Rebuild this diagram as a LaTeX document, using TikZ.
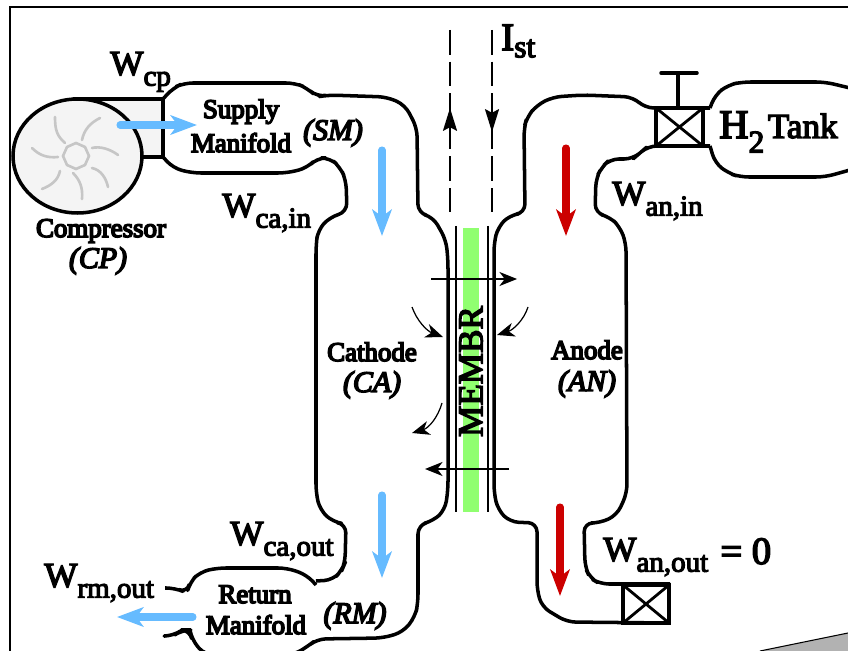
\documentclass[tikz,border=0pt]{standalone}
\usepackage{fontspec}
\setmainfont{Liberation Serif}
\newfontfamily\fatfont[FakeBold=4]{Liberation Serif}
\newfontfamily\midfont[FakeBold=6]{Liberation Serif}
\newfontfamily\fatitfont[FakeBold=5]{Liberation Serif Italic}
\usetikzlibrary{arrows.meta, positioning, calc}
\definecolor{cFlow}{HTML}{66BBFF}
\definecolor{cHyd}{HTML}{CC0000}
\definecolor{cMemb}{HTML}{90FF70}
\newcommand{\flowlabel}[3][0.8ex]{\fontsize{20}{20}\selectfont #2\fontsize{16.5}{16.5}\selectfont\raisebox{-#1}{#3}}
\tikzset{
  tube/.style={line width=2pt, rounded corners=5pt, line join=round},
  valvebox/.style={line width=2pt, line join=miter},
  blade/.style={line width=1.5pt, gray!45, line cap=round},
  flowblue/.style={-{Stealth[length=15pt,width=11pt,inset=4pt]}, line width=4pt, cFlow, line cap=round},
  flowred/.style={-{Stealth[length=15pt,width=11pt,inset=4pt]}, line width=4pt, cHyd, line cap=round},
  thinarrow/.style={-{Stealth[length=10pt,width=8pt,inset=3pt]}, line width=0.7pt},
  currentline/.style={line width=0.8pt, dash pattern=on 14pt off 4pt},
  lbl/.style={font=\midfont\fontsize{15.3}{15.3}\selectfont, inner sep=0pt, anchor=base},
  lblit/.style={font=\fatitfont\fontsize{17}{17}\selectfont, inner sep=0pt, anchor=base},
  flowlbl/.style={font=\fatfont, inner sep=0pt, anchor=base west},
}
\begin{document}
\begin{tikzpicture}[x=0.02cm, y=-0.02cm]
  \useasboundingbox (0,0) rectangle (848,651);
  % Frame
  \draw[line width=1.1pt] (10,651) -- (10,7) -- (848,7);
  \fill[gray!60] (760,651) -- (848,633) -- (848,651) -- cycle;
  \draw[line width=0.6pt] (760,651) -- (848,633);

  % Membrane
  \fill[cMemb] (463,228) rectangle (479,512);
  \draw[line width=0.8pt] (456,226) -- (456,512);
  \draw[line width=0.8pt] (488,226) -- (488,512);
  \node[font=\fatfont\fontsize{20}{20}\selectfont, rotate=90, inner sep=0pt] (membr) at (471,371.5) {MEMBR};

  % Compressor
  \filldraw[line width=2pt, fill=gray!9] (77,99) -- (163,99) -- (163,157) -- (140,157) -- cycle;
  \filldraw[line width=2pt, fill=gray!9] (77.5,156) ellipse (64.5 and 57);
  \draw[blade] (76,143) -- (85,147) -- (89,156) -- (85,165) -- (76,169) -- (67,165) -- (63,156) -- (67,147) -- cycle;
  \draw[blade] (55,117) .. controls (55,130) and (57,136) .. (65,143);
  \draw[blade] (100,118) .. controls (90,123) and (84,130) .. (82,140);
  \draw[blade] (92,148) .. controls (100,146) and (110,149) .. (118,155);
  \draw[blade] (92,168) .. controls (101,170) and (106,178) .. (108,187);
  \draw[blade] (73,173) .. controls (80,180) and (83,188) .. (82,199);
  \draw[blade] (60,171) .. controls (58,180) and (52,185) .. (42,189);
  \draw[blade] (32,148) .. controls (40,156) and (48,158) .. (58,157);

  % Cathode side
  \draw[tube] (163,99) -- (173,88) -- (184,83) -- (295,83) -- (307,88) -- (317,97) -- (328,95)
    -- (387,97) -- (405,105) -- (417,128) -- (418,213) -- (433,217) -- (446,240) -- (448,260)
    -- (448,490) -- (445,510) -- (433,521) -- (418,525) -- (418,603) -- (415,617) -- (403,632)
    -- (383,638) -- (317,639) -- (307,647) -- (293,655) -- (205,655) -- (192,640) -- (190,630)
    -- (182,630) -- (173,636) -- (165,636);
  \draw[tube] (163,157) -- (173,168) -- (192,173) -- (287,173) -- (307,168) -- (317,158)
    -- (330,158) -- (340,167) -- (346,180) -- (347,212) -- (330,217) -- (318,230) -- (316,245)
    -- (316,493) -- (320,510) -- (333,522) -- (346,524) -- (345,563) -- (342,570)
    -- (333,580) -- (316,581);
  \draw[tube] (316,585) -- (307,575) -- (287,568) -- (217,568) -- (200,572)
    -- (190,582) -- (187,593) -- (175,588) -- (165,588);

  % Anode side
  \draw[tube] (710,108) -- (645,108) -- (633,97) -- (583,95) -- (553,97)
    -- (537,105) -- (527,117) -- (524,128) -- (525,213) -- (510,215) -- (498,227) -- (494,243)
    -- (494,493) -- (498,510) -- (510,522) -- (537,523) -- (537,590) -- (542,607) -- (567,622)
    -- (669,623);
  \draw[tube] (710,146) -- (648,146) -- (640,153) -- (633,159) -- (610,159) -- (602,167)
    -- (596,178) -- (595,213) -- (610,217) -- (620,227) -- (626,243) -- (627,493) -- (617,515)
    -- (600,523) -- (584,523) -- (585,567) -- (590,578) -- (600,584) -- (670,584);

  % Tank
  \draw[tube] (710,108) -- (715,95) -- (728,85) -- (742,82) -- (825,82) -- (850,88);
  \draw[tube] (710,146) -- (715,163) -- (728,173) -- (740,177) -- (825,177) -- (850,170);

  % Valves
  \draw[valvebox] (656,108) rectangle (703,146);
  \draw[line width=1.6pt] (656,108) -- (703,146) (656,146) -- (703,108);
  \draw[valvebox] (678,108) -- (678,73);
  \draw[valvebox, line cap=round] (661,73) -- (697,73);
  \draw[valvebox] (623,585) rectangle (669,623);
  \draw[line width=1.6pt] (623,585) -- (669,623) (623,623) -- (669,585);

  % Current
  \draw[currentline] (450,30) -- (450,212);
  \draw[currentline] (492,30) -- (492,212);
  \draw[-{Stealth[length=13pt,width=8pt,inset=2pt]}, line width=0.8pt] (450,130) -- (450,108);
  \draw[-{Stealth[length=13pt,width=8pt,inset=2pt]}, line width=0.8pt] (492,108) -- (492,132);

  % Flow arrows
  \draw[flowblue] (120,125) -- (197,125);
  \draw[flowblue] (382,150) -- (382,236);
  \draw[flowblue] (382,495) -- (382,578);
  \draw[flowblue] (193,617) -- (117,617);
  \draw[flowred] (566,148) -- (566,236);
  \draw[flowred] (560,507) -- (560,596);

  % Reactions
  \draw[thinarrow] (431,279) -- (517,279);
  \draw[thinarrow] (509,469) -- (425,469);
  \draw[thinarrow] (412,307) .. controls (417,321) and (427,331) .. (443,337);
  \draw[thinarrow] (528,307) .. controls (524,320) and (513,330) .. (497,335);
  \draw[thinarrow] (442,403) .. controls (438,417) and (429,428) .. (412,433);

  % Labels
  \node[flowlbl] (wcp) at (110,75) {\flowlabel{W}{cp}};
  \node[flowlbl] (wcain) at (222,217) {\flowlabel{W}{ca,in}};
  \node[flowlbl] (wcaout) at (230,545) {\flowlabel{W}{ca,out}};
  \node[flowlbl] (wrmout) at (44,587) {\flowlabel{W}{rm,out}};
  \node[flowlbl] (wanin) at (612,205) {\flowlabel{W}{an,in}};
  \node[flowlbl] (wanout) at (603,561) {\flowlabel{W}{an,out}};
  \node[flowlbl, font=\fatfont\fontsize{22}{22}\selectfont] (wanzero) at (720,564) {= 0};
  \node[flowlbl] (ist) at (501,50) {\fontsize{22}{22}\selectfont I\fontsize{18}{18}\selectfont\raisebox{-0.5ex}{st}};
  \node[flowlbl] (tank) at (719,138) {\fontsize{23}{23}\selectfont H\fontsize{18}{18}\selectfont\raisebox{-1ex}{2}\fontsize{20}{20}\selectfont\hspace{2pt}Tank};

  \node[lbl] (supply) at (241,118) {Supply};
  \node[lbl] (sman) at (241,152) {Manifold};
  \node[lblit] (smit) at (333,140) {(SM)};
  \node[lbl] (comp) at (101,237) {Compressor};
  \node[lblit] (cpit) at (98,268) {(CP)};
  \node[lbl] (cath) at (372,361) {Cathode};
  \node[lblit] (cait) at (372,392) {(CA)};
  \node[lbl] (anode) at (587,359) {Anode};
  \node[lblit] (anit) at (587,391) {(AN)};
  \node[lbl] (ret) at (255,603) {Return};
  \node[lbl] (rman) at (256,634) {Manifold};
  \node[lblit] (rmit) at (355,623) {(RM)};
\end{tikzpicture}
\end{document}
